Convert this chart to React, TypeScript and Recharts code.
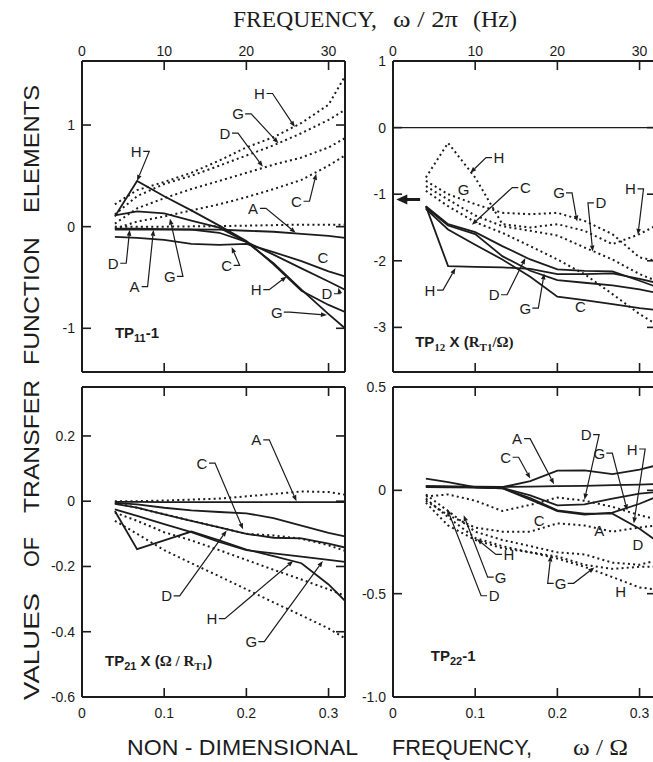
import React from 'react';
import { LineChart, Line, XAxis, YAxis, ReferenceLine, ReferenceDot } from 'recharts';

// ---------- shared x values (non-dimensional frequency ω/Ω) ----------
const FREQ = [0.04, 0.067, 0.1, 0.133, 0.167, 0.2, 0.233, 0.267, 0.3, 0.32];
const X_TICKS = [0, 0.1, 0.2, 0.3];

// ---------- TP11 - 1 ----------
const tp11SolidA = [-0.02, -0.02, -0.025, -0.028, -0.03, -0.04, -0.05, -0.07, -0.09, -0.11];
const tp11SolidC = [-0.1, -0.11, -0.13, -0.17, -0.18, -0.17, -0.25, -0.34, -0.44, -0.49];
const tp11SolidD = [-0.03, -0.03, -0.03, -0.03, -0.06, -0.15, -0.275, -0.41, -0.54, -0.62];
const tp11SolidG = [0.11, 0.15, 0.13, 0.06, -0.01, -0.15, -0.36, -0.62, -0.86, -1.0];
const tp11SolidH = [0.1, 0.45, 0.3, 0.16, 0.01, -0.14, -0.37, -0.63, -0.77, -0.84];
const tp11DotA = [0.0, 0.0, 0.0, 0.003, 0.005, 0.01, 0.015, 0.02, 0.02, 0.02];
const tp11DotC = [-0.02, 0.05, 0.1, 0.16, 0.22, 0.29, 0.37, 0.46, 0.6, 0.7];
const tp11DotD = [0.03, 0.18, 0.28, 0.37, 0.45, 0.53, 0.61, 0.68, 0.78, 0.87];
const tp11DotG = [0.12, 0.3, 0.42, 0.5, 0.6, 0.7, 0.8, 0.92, 1.05, 1.15];
const tp11DotH = [0.22, 0.36, 0.44, 0.53, 0.65, 0.78, 0.88, 1.02, 1.2, 1.48];
const tp11Ticks = [-1, 0, 1];

// ---------- TP12 x (RT1/Ω) ----------
const tp12SolidC = [-1.22, -1.53, -1.76, -1.98, -2.24, -2.54, -2.59, -2.65, -2.71, -2.74];
const tp12SolidD = [-1.18, -1.45, -1.57, -1.78, -1.98, -2.13, -2.15, -2.16, -2.3, -2.39];
const tp12SolidG = [-1.2, -1.47, -1.6, -1.93, -2.15, -2.29, -2.33, -2.37, -2.43, -2.48];
const tp12SolidH = [-1.18, -2.08, -2.09, -2.1, -2.12, -2.2, -2.2, -2.19, -2.27, -2.33];
const tp12DotC = [-0.95, -1.18, -1.42, -1.58, -1.78, -1.98, -2.2, -2.5, -2.8, -2.95];
const tp12DotD = [-0.88, -1.08, -1.32, -1.48, -1.55, -1.62, -1.8, -1.98, -2.2, -2.3];
const tp12DotG = [-0.8, -1.0, -1.15, -1.28, -1.3, -1.28, -1.4, -1.6, -1.95, -2.0];
const tp12DotH = [-0.75, -0.23, -0.75, -1.45, -1.5, -1.45, -1.55, -1.75, -1.6, -1.47];
const tp12Ticks = [-3, -2, -1, 0, 1];

// ---------- TP21 x (Ω/RT1) ----------
const tp21SolidA = [-0.002, -0.002, -0.003, -0.003, -0.003, -0.003, -0.003, -0.003, -0.003, -0.003];
const tp21SolidD = [-0.005, -0.01, -0.02, -0.028, -0.033, -0.037, -0.052, -0.075, -0.097, -0.108];
const tp21SolidC = [-0.008, -0.02, -0.04, -0.06, -0.08, -0.1, -0.112, -0.114, -0.13, -0.142];
const tp21SolidH = [-0.03, -0.147, -0.12, -0.093, -0.12, -0.148, -0.168, -0.19, -0.255, -0.305];
const tp21SolidG = [-0.025, -0.045, -0.07, -0.095, -0.125, -0.15, -0.16, -0.17, -0.18, -0.186];
const tp21DotA = [0.0, 0.0, 0.002, 0.005, 0.008, 0.015, 0.022, 0.03, 0.028, 0.02];
const tp21DotC = [-0.005, -0.02, -0.04, -0.06, -0.08, -0.1, -0.105, -0.115, -0.135, -0.152];
const tp21DotD = [-0.035, -0.06, -0.095, -0.12, -0.15, -0.18, -0.21, -0.24, -0.27, -0.29];
const tp21DotG = [-0.06, -0.1, -0.15, -0.19, -0.23, -0.27, -0.31, -0.35, -0.39, -0.42];
const tp21Ticks = [-0.6, -0.4, -0.2, 0, 0.2];

// ---------- TP22 - 1 ----------
const tp22SolidA = [0.02, 0.019, 0.018, 0.017, 0.018, 0.02, 0.022, 0.025, 0.028, 0.03];
const tp22SolidC = [0.016, 0.015, 0.014, 0.015, 0.045, 0.095, 0.097, 0.078, 0.1, 0.12];
const tp22SolidD = [0.018, 0.016, 0.014, 0.012, -0.024, -0.073, -0.068, -0.04, -0.016, -0.008];
const tp22SolidG = [0.02, 0.018, 0.015, 0.01, -0.045, -0.1, -0.118, -0.108, -0.065, -0.032];
const tp22SolidH = [0.057, 0.04, 0.015, 0.01, -0.037, -0.097, -0.113, -0.113, -0.186, -0.243];
const tp22DotA = [-0.05, -0.12, -0.18, -0.2, -0.2, -0.16, -0.17, -0.2, -0.18, -0.17];
const tp22DotC = [-0.03, -0.02, -0.05, -0.1, -0.07, -0.035, -0.05, -0.08, -0.12, -0.14];
const tp22DotD = [-0.02, -0.1, -0.2, -0.24, -0.27, -0.3, -0.31, -0.35, -0.36, -0.34];
const tp22DotG = [-0.04, -0.13, -0.23, -0.27, -0.3, -0.32, -0.36, -0.38, -0.37, -0.37];
const tp22DotH = [-0.06, -0.17, -0.24, -0.28, -0.3, -0.33, -0.37, -0.42, -0.47, -0.48];
const tp22Ticks = [-1, -0.5, 0, 0.5];

// ---------- curve labels (text, label x, label y, arrow target x, y) ----------
type Ann = { t: string; x: number; y: number; tx?: number; ty?: number };
const tp11Labels: Ann[] = [
  { t: 'H', x: 0.216, y: 1.31, tx: 0.259, ty: 0.98 },
  { t: 'G', x: 0.19, y: 1.11, tx: 0.239, ty: 0.82 },
  { t: 'D', x: 0.174, y: 0.92, tx: 0.22, ty: 0.59 },
  { t: 'C', x: 0.261, y: 0.25, tx: 0.285, ty: 0.52 },
  { t: 'A', x: 0.208, y: 0.18, tx: 0.26, ty: -0.06 },
  { t: 'H', x: 0.066, y: 0.74, tx: 0.067, ty: 0.45 },
  { t: 'D', x: 0.038, y: -0.36, tx: 0.058, ty: -0.03 },
  { t: 'A', x: 0.064, y: -0.59, tx: 0.087, ty: -0.03 },
  { t: 'G', x: 0.107, y: -0.49, tx: 0.107, ty: 0.08 },
  { t: 'C', x: 0.176, y: -0.38, tx: 0.182, ty: -0.2 },
  { t: 'C', x: 0.293, y: -0.3 },
  { t: 'H', x: 0.212, y: -0.62, tx: 0.249, ty: -0.49 },
  { t: 'D', x: 0.298, y: -0.66, tx: 0.312, ty: -0.6 },
  { t: 'G', x: 0.237, y: -0.84, tx: 0.298, ty: -0.87 },
];
const tp12Labels: Ann[] = [
  { t: 'H', x: 0.129, y: -0.45, tx: 0.094, ty: -0.68 },
  { t: 'G', x: 0.086, y: -0.93 },
  { t: 'C', x: 0.161, y: -0.9, tx: 0.096, ty: -1.46 },
  { t: 'G', x: 0.202, y: -0.98, tx: 0.224, ty: -1.41 },
  { t: 'D', x: 0.253, y: -1.13, tx: 0.243, ty: -1.86 },
  { t: 'H', x: 0.289, y: -0.92, tx: 0.298, ty: -1.61 },
  { t: 'H', x: 0.045, y: -2.44, tx: 0.076, ty: -2.11 },
  { t: 'D', x: 0.123, y: -2.51, tx: 0.161, ty: -1.96 },
  { t: 'G', x: 0.161, y: -2.71, tx: 0.184, ty: -2.19 },
  { t: 'C', x: 0.228, y: -2.69 },
];
const tp21Labels: Ann[] = [
  { t: 'A', x: 0.212, y: 0.188, tx: 0.261, ty: 0.0 },
  { t: 'C', x: 0.146, y: 0.117, tx: 0.196, ty: -0.086 },
  { t: 'D', x: 0.103, y: -0.29, tx: 0.176, ty: -0.09 },
  { t: 'H', x: 0.158, y: -0.36, tx: 0.257, ty: -0.183 },
  { t: 'G', x: 0.206, y: -0.43, tx: 0.293, ty: -0.183 },
];
const tp22Labels: Ann[] = [
  { t: 'A', x: 0.151, y: 0.25, tx: 0.196, ty: 0.03 },
  { t: 'C', x: 0.137, y: 0.16, tx: 0.167, ty: 0.057 },
  { t: 'D', x: 0.235, y: 0.27, tx: 0.233, ty: -0.045 },
  { t: 'G', x: 0.251, y: 0.18, tx: 0.285, ty: -0.097 },
  { t: 'H', x: 0.291, y: 0.2, tx: 0.293, ty: -0.16 },
  { t: 'C', x: 0.178, y: -0.146 },
  { t: 'A', x: 0.251, y: -0.194 },
  { t: 'D', x: 0.298, y: -0.26 },
  { t: 'H', x: 0.141, y: -0.31, tx: 0.102, ty: -0.235 },
  { t: 'G', x: 0.131, y: -0.42, tx: 0.086, ty: -0.12 },
  { t: 'D', x: 0.123, y: -0.51, tx: 0.066, ty: -0.09 },
  { t: 'G', x: 0.204, y: -0.45, tx: 0.192, ty: -0.316 },
  { t: '', x: 0.204, y: -0.45, tx: 0.245, ty: -0.373 },
  { t: 'H', x: 0.277, y: -0.49 },
];

const tp12Arrow = { from: 0.033, to: 0.004, y: -1.08 };

const INK = '#1c1c1c';
const SANS = 'Liberation Sans, Arial, Helvetica, sans-serif';
const SERIF = 'Liberation Serif, Times New Roman, serif';

const Leader = (p: any) => {
  const { x1, y1, x2, y2 } = p;
  const dir = Math.abs(x2 - x1) < 3 ? 1 : Math.sign(x2 - x1);
  const sx = x1 + dir * 7;
  const ex = sx + dir * 6;
  const dx = x2 - ex;
  const dy = y2 - y1;
  const len = Math.hypot(dx, dy) || 1;
  const ux = dx / len;
  const uy = dy / len;
  const hx = x2 - ux * 6;
  const hy = y2 - uy * 6;
  const px = -uy * 2.3;
  const py = ux * 2.3;
  return (
    <g>
      <polyline points={`${sx},${y1} ${ex},${y1} ${hx},${hy}`} fill="none" stroke={INK} strokeWidth={1.2} />
      <polygon points={`${x2},${y2} ${hx + px},${hy + py} ${hx - px},${hy - py}`} fill={INK} />
    </g>
  );
};

const BigArrow = (p: any) => {
  const { x1, y1, x2, y2 } = p;
  return (
    <g>
      <line x1={x1} y1={y1} x2={x2 + 9} y2={y2} stroke={INK} strokeWidth={3} />
      <polygon points={`${x2},${y2} ${x2 + 11},${y2 - 5} ${x2 + 11},${y2 + 5}`} fill={INK} />
    </g>
  );
};

type PanelProps = {
  left: number;
  top: number;
  w: number;
  h: number;
  yDomain: [number, number];
  yTicks: number[];
  yFmt: (v: number) => string;
  topLabels: boolean;
  solid: Record<string, number[]>;
  dotted: Record<string, number[]>;
  labels: Ann[];
  title: (cx: number, cy: number) => React.ReactElement;
  titleAt: [number, number];
  zeroLine?: boolean;
  arrow?: { from: number; to: number; y: number };
};

function Panel(props: PanelProps) {
  const { left, top, w, h, yDomain, yTicks, yFmt, topLabels, solid, dotted, labels, title, titleAt, zeroLine, arrow } = props;
  const L = 50;
  const R = 10;
  const T = 40;
  const B = 40;
  const data = FREQ.map((x, i) => {
    const row: Record<string, number> = { x };
    Object.keys(solid).forEach((k) => (row['s' + k] = solid[k][i]));
    Object.keys(dotted).forEach((k) => (row['d' + k] = dotted[k][i]));
    return row;
  });
  const tickStyle = { fontFamily: SANS, fontSize: 14, fill: INK };
  const blank = () => '';
  const axisLine = { stroke: INK, strokeWidth: 2 };
  const tickLine = { stroke: INK, strokeWidth: 1.6 };
  return (
    <div style={{ position: 'absolute', left: left - L, top: top - T }}>
      <LineChart width={w + L + R} height={h + T + B} data={data} margin={{ top: 0, right: 0, bottom: 0, left: 0 }}>
        <XAxis
          xAxisId="t"
          orientation="top"
          dataKey="x"
          type="number"
          domain={[0, 0.32]}
          allowDataOverflow
          ticks={X_TICKS}
          interval={0}
          height={T}
          tickSize={-9}
          tickMargin={14}
          axisLine={axisLine}
          tickLine={tickLine}
          tick={tickStyle}
          tickFormatter={topLabels ? (v: number) => String(Math.round(v * 100)) : blank}
        />
        <XAxis
          xAxisId="b"
          orientation="bottom"
          dataKey="x"
          type="number"
          domain={[0, 0.32]}
          allowDataOverflow
          ticks={X_TICKS}
          interval={0}
          height={B}
          tickSize={-9}
          tickMargin={20}
          axisLine={axisLine}
          tickLine={tickLine}
          tick={tickStyle}
          tickFormatter={topLabels ? blank : (v: number) => (v === 0 ? '0' : v.toFixed(1))}
        />
        <YAxis
          yAxisId="l"
          orientation="left"
          type="number"
          domain={yDomain}
          allowDataOverflow
          ticks={yTicks}
          interval={0}
          width={L}
          tickSize={-9}
          tickMargin={16}
          axisLine={axisLine}
          tickLine={tickLine}
          tick={tickStyle}
          tickFormatter={yFmt}
        />
        <YAxis
          yAxisId="r"
          orientation="right"
          type="number"
          domain={yDomain}
          allowDataOverflow
          ticks={yTicks}
          interval={0}
          width={R}
          tickSize={-9}
          axisLine={axisLine}
          tickLine={tickLine}
          tickFormatter={blank}
        />
        {zeroLine && <ReferenceLine xAxisId="b" yAxisId="l" y={0} stroke={INK} strokeWidth={1.2} />}
        {Object.keys(dotted).map((k) => (
          <Line
            key={'d' + k}
            xAxisId="b"
            yAxisId="l"
            dataKey={'d' + k}
            type="linear"
            stroke={INK}
            strokeWidth={2}
            strokeDasharray="2 3.2"
            dot={false}
            activeDot={false}
            isAnimationActive={false}
          />
        ))}
        {Object.keys(solid).map((k) => (
          <Line
            key={'s' + k}
            xAxisId="b"
            yAxisId="l"
            dataKey={'s' + k}
            type="linear"
            stroke={INK}
            strokeWidth={1.8}
            dot={false}
            activeDot={false}
            isAnimationActive={false}
          />
        ))}
        {labels.map((a, i) =>
          a.tx !== undefined && a.ty !== undefined ? (
            <ReferenceLine
              key={'ld' + i}
              xAxisId="b"
              yAxisId="l"
              segment={[
                { x: a.x, y: a.y },
                { x: a.tx, y: a.ty },
              ]}
              shape={Leader}
              ifOverflow="visible"
            />
          ) : null
        )}
        {labels.map((a, i) =>
          a.t ? (
            <ReferenceDot
              key={'lt' + i}
              xAxisId="b"
              yAxisId="l"
              x={a.x}
              y={a.y}
              r={1}
              ifOverflow="visible"
              shape={(p: any) => (
                <text
                  x={p.cx}
                  y={p.cy}
                  textAnchor="middle"
                  dominantBaseline="central"
                  fontFamily={SANS}
                  fontSize={15}
                  fill={INK}
                >
                  {a.t}
                </text>
              )}
            />
          ) : null
        )}
        {arrow && (
          <ReferenceLine
            xAxisId="b"
            yAxisId="l"
            segment={[
              { x: arrow.from, y: arrow.y },
              { x: arrow.to, y: arrow.y },
            ]}
            shape={BigArrow}
            ifOverflow="visible"
          />
        )}
        <ReferenceDot
          xAxisId="b"
          yAxisId="l"
          x={titleAt[0]}
          y={titleAt[1]}
          r={1}
          ifOverflow="visible"
          shape={(p: any) => title(p.cx, p.cy)}
        />
      </LineChart>
    </div>
  );
}

const fmtInt = (v: number) => String(v);
const fmtOne = (v: number) => (v === 0 ? '0' : v.toFixed(1));

export default function App() {
  return (
    <div
      style={{
        position: 'absolute',
        left: 0,
        top: 0,
        width: 653,
        height: 762,
        overflow: 'hidden',
        background: '#fff',
      }}
    >
      <Panel
        left={82}
        top={61}
        w={263}
        h={311}
        yDomain={[-1.43, 1.63]}
        yTicks={tp11Ticks}
        yFmt={fmtInt}
        topLabels
        solid={{ A: tp11SolidA, C: tp11SolidC, D: tp11SolidD, G: tp11SolidG, H: tp11SolidH }}
        dotted={{ A: tp11DotA, C: tp11DotC, D: tp11DotD, G: tp11DotG, H: tp11DotH }}
        labels={tp11Labels}
        titleAt={[0.04, -1.05]}
        title={(cx, cy) => (
          <text x={cx} y={cy + 5} fontFamily={SANS} fontWeight="bold" fontSize={15} fill={INK}>
            <tspan>TP</tspan>
            <tspan fontSize={11} dy={4}>11</tspan>
            <tspan dy={-4}>-1</tspan>
          </text>
        )}
      />
      <Panel
        left={393}
        top={61}
        w={263}
        h={311}
        yDomain={[-3.67, 1.0]}
        yTicks={tp12Ticks}
        yFmt={fmtInt}
        topLabels
        solid={{ C: tp12SolidC, D: tp12SolidD, G: tp12SolidG, H: tp12SolidH }}
        dotted={{ C: tp12DotC, D: tp12DotD, G: tp12DotG, H: tp12DotH }}
        labels={tp12Labels}
        zeroLine
        arrow={tp12Arrow}
        titleAt={[0.027, -3.22]}
        title={(cx, cy) => (
          <text x={cx} y={cy + 5} fontFamily={SANS} fontWeight="bold" fontSize={15} fill={INK}>
            <tspan>TP</tspan>
            <tspan fontSize={11} dy={4} fontFamily={SERIF}>12</tspan>
            <tspan dy={-4}> X (</tspan>
            <tspan fontFamily={SERIF}>R</tspan>
            <tspan fontSize={11} dy={4} fontFamily={SERIF}>T1</tspan>
            <tspan dy={-4} fontFamily={SERIF}>/Ω)</tspan>
          </text>
        )}
      />
      <Panel
        left={82}
        top={387}
        w={263}
        h={310}
        yDomain={[-0.6, 0.35]}
        yTicks={tp21Ticks}
        yFmt={fmtOne}
        topLabels={false}
        solid={{ A: tp21SolidA, D: tp21SolidD, C: tp21SolidC, H: tp21SolidH, G: tp21SolidG }}
        dotted={{ A: tp21DotA, C: tp21DotC, D: tp21DotD, G: tp21DotG }}
        labels={tp21Labels}
        titleAt={[0.028, -0.49]}
        title={(cx, cy) => (
          <text x={cx} y={cy + 5} fontFamily={SANS} fontWeight="bold" fontSize={15} fill={INK}>
            <tspan>TP</tspan>
            <tspan fontSize={11} dy={4}>21</tspan>
            <tspan dy={-4}> X (</tspan>
            <tspan fontFamily={SERIF}>Ω / R</tspan>
            <tspan fontSize={11} dy={4} fontFamily={SERIF}>T1</tspan>
            <tspan dy={-4}>)</tspan>
          </text>
        )}
      />
      <Panel
        left={393}
        top={387}
        w={263}
        h={310}
        yDomain={[-1.0, 0.5]}
        yTicks={tp22Ticks}
        yFmt={fmtOne}
        topLabels={false}
        solid={{ A: tp22SolidA, C: tp22SolidC, D: tp22SolidD, G: tp22SolidG, H: tp22SolidH }}
        dotted={{ A: tp22DotA, C: tp22DotC, D: tp22DotD, G: tp22DotG, H: tp22DotH }}
        labels={tp22Labels}
        titleAt={[0.046, -0.8]}
        title={(cx, cy) => (
          <text x={cx} y={cy + 5} fontFamily={SANS} fontWeight="bold" fontSize={15} fill={INK}>
            <tspan>TP</tspan>
            <tspan fontSize={11} dy={4}>22</tspan>
            <tspan dy={-4}>-1</tspan>
          </text>
        )}
      />
      <svg
        width={653}
        height={762}
        style={{ position: 'absolute', left: 0, top: 0, pointerEvents: 'none' }}
      >
        <g fill={INK}>
          <text x={233} y={27} fontFamily={SERIF} fontSize={23} textLength={144} lengthAdjust="spacingAndGlyphs">FREQUENCY,</text>
          <text x={393} y={27} fontFamily={SERIF} fontSize={23} textLength={65} lengthAdjust="spacingAndGlyphs">ω / 2π</text>
          <text x={473} y={27} fontFamily={SERIF} fontSize={23} textLength={44} lengthAdjust="spacingAndGlyphs">(Hz)</text>
          <text x={127} y={755} fontFamily={SANS} fontSize={22} textLength={231} lengthAdjust="spacingAndGlyphs">NON - DIMENSIONAL</text>
          <text x={392} y={755} fontFamily={SANS} fontSize={22} textLength={140} lengthAdjust="spacingAndGlyphs">FREQUENCY,</text>
          <text x={573} y={755} fontFamily={SERIF} fontSize={24} textLength={55} lengthAdjust="spacingAndGlyphs">ω / Ω</text>
          <text x={39} y={700} transform="rotate(-90 39 700)" fontFamily={SANS} fontSize={22} textLength={107} lengthAdjust="spacingAndGlyphs">VALUES</text>
          <text x={39} y={567} transform="rotate(-90 39 567)" fontFamily={SANS} fontSize={22} textLength={30} lengthAdjust="spacingAndGlyphs">OF</text>
          <text x={39} y={513} transform="rotate(-90 39 513)" fontFamily={SANS} fontSize={22} textLength={133} lengthAdjust="spacingAndGlyphs">TRANSFER</text>
          <text x={39} y={365} transform="rotate(-90 39 365)" fontFamily={SANS} fontSize={22} textLength={128} lengthAdjust="spacingAndGlyphs">FUNCTION</text>
          <text x={39} y={213} transform="rotate(-90 39 213)" fontFamily={SANS} fontSize={22} textLength={128} lengthAdjust="spacingAndGlyphs">ELEMENTS</text>
        </g>
      </svg>
    </div>
  );
}
